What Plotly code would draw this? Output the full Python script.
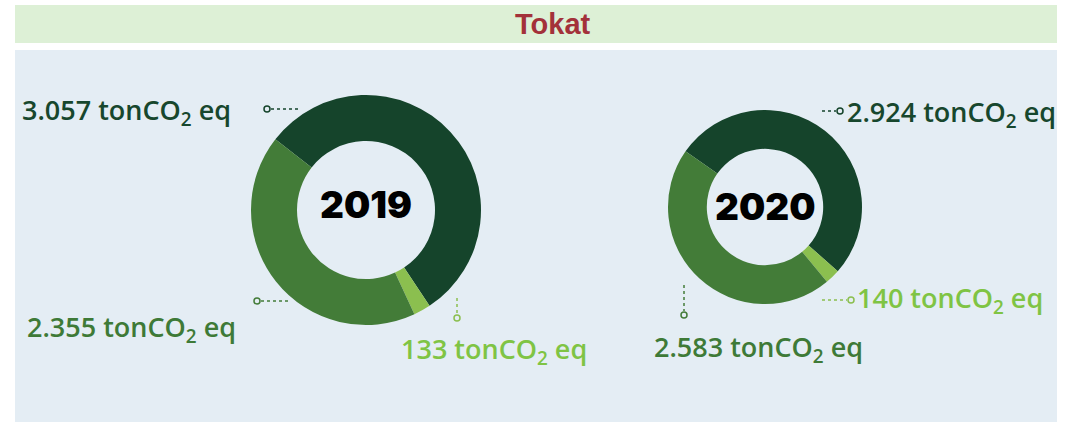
import plotly.graph_objects as go

# Emission values (tonCO2 eq) per source category, by year
categories = ["A", "B", "C"]
values_2019 = [3057, 133, 2355]
values_2020 = [2924, 140, 2583]
label_2019 = ["3.057", "133", "2.355"]
label_2020 = ["2.924", "140", "2.583"]
years = ["2019", "2020"]
title_text = "Tokat"

W, H = 1071, 423
DARK, LIGHT, MID = "#15442b", "#8bbf4f", "#437c38"
TXT = {"dark": "#17472d", "mid": "#3e7a37", "light": "#7fc444"}
PANEL = "#e4edf4"
BAND = "#ddf0d6"


def px(x):
    return x / W


def py(y):
    return 1 - y / H


fig = go.Figure()

fig.add_trace(go.Pie(
    labels=categories, values=values_2019, hole=0.6, sort=False,
    direction="clockwise", rotation=-52,
    marker=dict(colors=[DARK, LIGHT, MID], line=dict(width=0)),
    textinfo="none", hoverinfo="label+value", showlegend=False,
    domain=dict(x=[px(251), px(481)], y=[py(325), py(95)]),
))
fig.add_trace(go.Pie(
    labels=categories, values=values_2020, hole=0.6, sort=False,
    direction="clockwise", rotation=-55,
    marker=dict(colors=[DARK, LIGHT, MID], line=dict(width=0)),
    textinfo="none", hoverinfo="label+value", showlegend=False,
    domain=dict(x=[px(668), px(862)], y=[py(304), py(110)]),
))

shapes = [
    # title band and panel
    dict(type="rect", xref="paper", yref="paper", x0=px(15), x1=px(1057),
         y0=py(43), y1=py(5), fillcolor=BAND, line=dict(width=0), layer="below"),
    dict(type="rect", xref="paper", yref="paper", x0=px(15), x1=px(1057),
         y0=py(422), y1=py(50), fillcolor=PANEL, line=dict(width=0), layer="below"),
]


def leader(x0, y0, x1, y1, cx, cy, color):
    shapes.append(dict(type="line", xref="paper", yref="paper",
                       x0=px(x0), y0=py(y0), x1=px(x1), y1=py(y1),
                       line=dict(color=color, width=1.5, dash="dot")))
    shapes.append(dict(type="circle", xref="paper", yref="paper",
                       x0=px(cx - 3), x1=px(cx + 3), y0=py(cy + 3), y1=py(cy - 3),
                       fillcolor=PANEL, line=dict(color=color, width=1.5)))


leader(271, 109, 298, 109, 267, 109, DARK)
leader(261, 301, 289, 301, 257, 301, MID)
leader(457, 298, 457, 314, 457, 318, LIGHT)
leader(822, 111, 836, 111, 840, 111, DARK)
leader(822, 300, 847, 300, 851, 300, LIGHT)
leader(684, 285, 684, 311, 684, 315, MID)

annotations = [
    dict(text="<b>" + title_text + "</b>", x=px(553), y=py(24), xref="paper", yref="paper",
         xanchor="center", yanchor="middle", showarrow=False,
         font=dict(family="Liberation Sans", size=29, color="#a3313a")),
]

year_pos = [(366, 204), (765, 207)]
for yr, (cx, cy) in zip(years, year_pos):
    annotations.append(dict(text=yr, x=px(cx), y=py(cy), xref="paper", yref="paper",
                            xanchor="center", yanchor="middle", showarrow=False,
                            font=dict(family="Inter", size=37, color="#000000", weight=900)))


def label(val, x, y, color):
    annotations.append(dict(
        text=val + " tonCO<sub>2</sub> eq", x=px(x), y=py(y), xref="paper", yref="paper",
        xanchor="left", yanchor="middle", showarrow=False,
        font=dict(family="Open Sans", size=27, color=color, weight=600)))


label(label_2019[0], 20, 111, TXT["dark"])
label(label_2019[2], 25, 328, TXT["mid"])
label(label_2019[1], 399, 350, TXT["light"])
label(label_2020[0], 845, 114, TXT["dark"])
label(label_2020[1], 855, 299, TXT["light"])
label(label_2020[2], 652, 348, TXT["mid"])

fig.update_layout(
    width=W, height=H, margin=dict(l=0, r=0, t=0, b=0),
    paper_bgcolor="#ffffff", plot_bgcolor="#ffffff",
    shapes=shapes, annotations=annotations,
)

fig.write_html("out.html")
